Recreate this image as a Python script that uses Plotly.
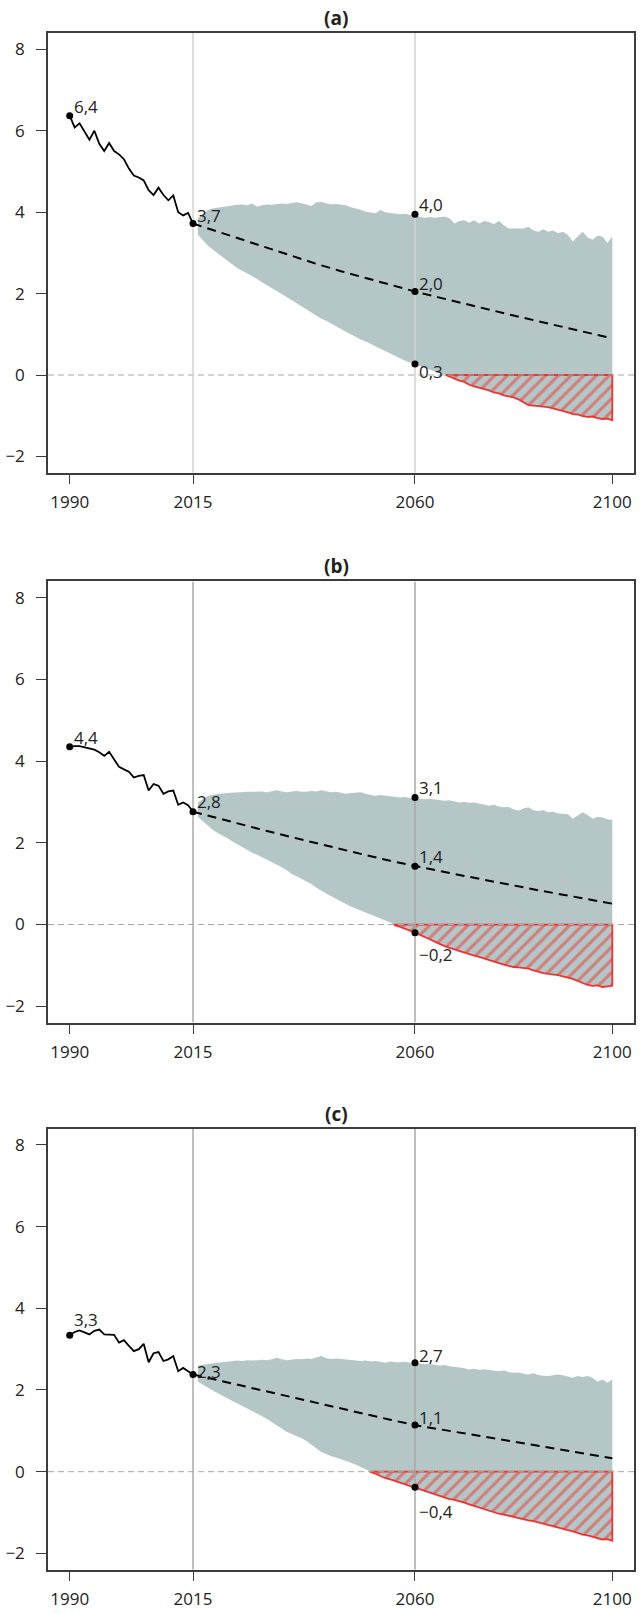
import plotly.graph_objects as go

# ---------------- data ----------------
YEARS_HIST = list(range(1990, 2016))
YEARS_FC = list(range(2016, 2101))
YEARS_MED = list(range(2015, 2101, 5))
REF_YEARS = [2015, 2060]
KEY_YEAR = 2060

hist_a = [6.37, 6.08, 6.18, 5.97, 5.78, 6.00, 5.68, 5.50, 5.70, 5.50,
          5.42, 5.30, 5.07, 4.90, 4.85, 4.78, 4.54, 4.42, 4.60, 4.42,
          4.29, 4.41, 4.00, 3.92, 3.98, 3.72]
upper_a = [3.85, 3.95, 4.05, 4.09, 4.11, 4.13, 4.15, 4.16, 4.18, 4.19,
           4.17, 4.21, 4.13, 4.17, 4.19, 4.18, 4.20, 4.21, 4.20, 4.22,
           4.24, 4.22, 4.18, 4.15, 4.24, 4.25, 4.22, 4.19, 4.20, 4.18,
           4.17, 4.12, 4.09, 4.06, 4.01, 3.99, 3.97, 4.05, 4.00, 3.98,
           3.97, 3.95, 3.96, 3.93, 3.95, 3.88, 3.86, 3.88, 3.86, 3.87,
           3.89, 3.85, 3.72, 3.78, 3.80, 3.74, 3.80, 3.72, 3.78, 3.76,
           3.70, 3.79, 3.68, 3.60, 3.60, 3.61, 3.60, 3.64, 3.55, 3.52,
           3.58, 3.52, 3.55, 3.48, 3.52, 3.44, 3.28, 3.40, 3.52, 3.38,
           3.32, 3.42, 3.40, 3.24, 3.40]
lower_a = [3.44, 3.30, 3.18, 3.08, 2.99, 2.91, 2.82, 2.72, 2.62, 2.56,
           2.50, 2.43, 2.36, 2.28, 2.21, 2.14, 2.07, 2.00, 1.92, 1.84,
           1.76, 1.68, 1.60, 1.53, 1.46, 1.38, 1.33, 1.27, 1.19, 1.13,
           1.06, 0.99, 0.92, 0.87, 0.82, 0.76, 0.70, 0.64, 0.58, 0.52,
           0.47, 0.41, 0.35, 0.31, 0.27, 0.22, 0.18, 0.13, 0.09, 0.05,
           0.01, -0.04, -0.08, -0.14, -0.17, -0.24, -0.28, -0.31, -0.35, -0.38,
           -0.43, -0.45, -0.50, -0.53, -0.55, -0.60, -0.66, -0.74, -0.75, -0.76,
           -0.78, -0.79, -0.82, -0.85, -0.88, -0.92, -0.96, -0.97, -1.01, -1.03,
           -1.02, -1.06, -1.08, -1.07, -1.11]
med_a = [3.72, 3.52, 3.32, 3.12, 2.92, 2.73, 2.55, 2.38, 2.21, 2.05,
         1.90, 1.75, 1.60, 1.46, 1.32, 1.18, 1.04, 0.90]
labels_a = ["6,4", "3,7", "4,0", "2,0", "0,3"]

hist_b = [4.35, 4.37, 4.37, 4.34, 4.31, 4.28, 4.22, 4.13, 4.23, 4.05,
          3.86, 3.80, 3.74, 3.60, 3.64, 3.66, 3.28, 3.44, 3.40, 3.20,
          3.26, 3.28, 2.93, 2.99, 2.92, 2.76]
upper_b = [2.99, 3.08, 3.15, 3.18, 3.20, 3.21, 3.22, 3.23, 3.24, 3.24,
           3.25, 3.25, 3.25, 3.26, 3.24, 3.27, 3.29, 3.26, 3.24, 3.26,
           3.27, 3.25, 3.25, 3.27, 3.26, 3.29, 3.27, 3.24, 3.25, 3.23,
           3.20, 3.22, 3.23, 3.24, 3.20, 3.18, 3.15, 3.17, 3.15, 3.14,
           3.13, 3.11, 3.12, 3.10, 3.11, 3.08, 3.07, 3.08, 3.06, 3.05,
           3.03, 3.04, 3.01, 2.99, 3.00, 2.98, 2.99, 2.96, 2.93, 2.91,
           2.93, 2.89, 2.87, 2.88, 2.82, 2.79, 2.84, 2.87, 2.80, 2.78,
           2.80, 2.75, 2.76, 2.72, 2.71, 2.70, 2.59, 2.66, 2.75, 2.68,
           2.59, 2.64, 2.62, 2.58, 2.56]
lower_b = [2.63, 2.52, 2.42, 2.32, 2.24, 2.18, 2.11, 2.03, 1.96, 1.88,
           1.81, 1.76, 1.71, 1.65, 1.59, 1.53, 1.46, 1.40, 1.33, 1.24,
           1.18, 1.12, 1.06, 0.99, 0.90, 0.82, 0.76, 0.69, 0.62, 0.56,
           0.50, 0.44, 0.39, 0.34, 0.29, 0.24, 0.19, 0.15, 0.10, 0.05,
           -0.02, -0.06, -0.10, -0.15, -0.20, -0.25, -0.31, -0.36, -0.42, -0.48,
           -0.53, -0.57, -0.61, -0.65, -0.69, -0.72, -0.76, -0.79, -0.83, -0.87,
           -0.91, -0.94, -0.98, -1.01, -1.04, -1.05, -1.06, -1.08, -1.12, -1.16,
           -1.19, -1.21, -1.22, -1.24, -1.27, -1.30, -1.33, -1.38, -1.44, -1.48,
           -1.50, -1.49, -1.53, -1.52, -1.50]
med_b = [2.76, 2.60, 2.44, 2.29, 2.14, 1.99, 1.85, 1.70, 1.56, 1.43,
         1.31, 1.19, 1.07, 0.95, 0.84, 0.73, 0.62, 0.51]
labels_b = ["4,4", "2,8", "3,1", "1,4", "\u22120,2"]

hist_c = [3.34, 3.42, 3.46, 3.40, 3.36, 3.45, 3.48, 3.36, 3.36, 3.35,
          3.16, 3.22, 3.08, 2.95, 3.00, 3.13, 2.68, 2.90, 2.93, 2.71,
          2.75, 2.83, 2.46, 2.54, 2.46, 2.38]
upper_c = [2.60, 2.62, 2.63, 2.65, 2.67, 2.68, 2.69, 2.71, 2.72, 2.71,
           2.73, 2.72, 2.73, 2.74, 2.73, 2.75, 2.79, 2.75, 2.73, 2.74,
           2.76, 2.75, 2.77, 2.76, 2.79, 2.83, 2.78, 2.76, 2.77, 2.76,
           2.75, 2.74, 2.72, 2.71, 2.72, 2.70, 2.71, 2.69, 2.67, 2.70,
           2.68, 2.68, 2.69, 2.67, 2.67, 2.65, 2.63, 2.64, 2.61, 2.60,
           2.61, 2.58, 2.57, 2.55, 2.53, 2.50, 2.52, 2.49, 2.51, 2.49,
           2.47, 2.46, 2.48, 2.44, 2.42, 2.43, 2.40, 2.38, 2.41, 2.37,
           2.35, 2.34, 2.36, 2.38, 2.36, 2.33, 2.30, 2.34, 2.32, 2.34,
           2.30, 2.20, 2.26, 2.18, 2.26]
lower_c = [2.20, 2.12, 2.06, 1.99, 1.92, 1.85, 1.79, 1.73, 1.67, 1.61,
           1.55, 1.49, 1.43, 1.36, 1.29, 1.21, 1.13, 1.05, 0.98, 0.92,
           0.87, 0.82, 0.75, 0.66, 0.57, 0.48, 0.43, 0.38, 0.35, 0.31,
           0.26, 0.22, 0.17, 0.12, 0.06, -0.01, -0.05, -0.10, -0.16, -0.19,
           -0.23, -0.26, -0.30, -0.34, -0.38, -0.42, -0.46, -0.50, -0.54, -0.58,
           -0.63, -0.67, -0.69, -0.72, -0.76, -0.80, -0.84, -0.88, -0.92, -0.95,
           -0.99, -1.03, -1.05, -1.08, -1.10, -1.13, -1.16, -1.19, -1.21, -1.24,
           -1.28, -1.31, -1.34, -1.36, -1.40, -1.43, -1.46, -1.50, -1.54, -1.56,
           -1.59, -1.63, -1.66, -1.65, -1.69]
med_c = [2.38, 2.24, 2.10, 1.96, 1.82, 1.68, 1.54, 1.41, 1.27, 1.14,
         1.04, 0.94, 0.84, 0.74, 0.64, 0.54, 0.43, 0.33]
labels_c = ["3,3", "2,3", "2,7", "1,1", "\u22120,4"]

PANEL_TITLES = ["(a)", "(b)", "(c)"]
X_TICKS = [1990, 2015, 2060, 2100]
Y_TICKS = [-2, 0, 2, 4, 6, 8]

panels = [
    dict(hist=hist_a, upper=upper_a, lower=lower_a, med=med_a, labels=labels_a),
    dict(hist=hist_b, upper=upper_b, lower=lower_b, med=med_b, labels=labels_b),
    dict(hist=hist_c, upper=upper_c, lower=lower_c, med=med_c, labels=labels_c),
]

# ---------------- style / layout ----------------
W, H = 640, 1614
M_T, M_B, M_L, M_R = 33, 36, 48, 4
PANEL_PX = [(33, 475), (584.3, 1027.7), (1134.3, 1577.7)]
PLOT_H = H - M_T - M_B
X_RANGE = [1985.6, 2104.4]
Y_RANGE = [-2.4, 8.4]

FONT = "Open Sans"
FS = 17
TXT = "#222222"
BAND = "#b4c6c6"
RED = "#ee3333"
BOX = "#3c3c3c"
VLINE_COLORS = ["#d2d2d2", "#a9a9a9", "#a9a9a9"]
# vertical pixel offsets of the value labels (per panel, per key point)
LABEL_YSHIFT = [[9, 8, 10, 8, -7],
                [9, 10, 10, 10, -22],
                [16, 3, 7, 8, -24]]

fig = go.Figure()
annotations = []
layout_axes = {}

for i, p in enumerate(panels):
    n = i + 1
    xa = "x" if n == 1 else f"x{n}"
    ya = "y" if n == 1 else f"y{n}"
    top, bot = PANEL_PX[i]
    dom = [1 - (bot - M_T) / PLOT_H, 1 - (top - M_T) / PLOT_H]

    up, lo, med, hist = p["upper"], p["lower"], p["med"], p["hist"]

    # band
    fig.add_trace(go.Scatter(x=YEARS_FC, y=lo, mode="lines", line=dict(width=0),
                             hoverinfo="skip", showlegend=False, xaxis=xa, yaxis=ya))
    fig.add_trace(go.Scatter(x=YEARS_FC, y=up, mode="lines", line=dict(width=0),
                             fill="tonexty", fillcolor=BAND,
                             hoverinfo="skip", showlegend=False, xaxis=xa, yaxis=ya))

    # hatched negative region
    k0 = next(k for k, v in enumerate(lo) if v < 0)
    xc = YEARS_FC[k0 - 1] + (0 - lo[k0 - 1]) / (lo[k0] - lo[k0 - 1])
    px = [xc] + YEARS_FC[k0:] + [YEARS_FC[-1], xc]
    py = [0] + lo[k0:] + [0, 0]
    fig.add_trace(go.Scatter(x=px, y=py, mode="lines", fill="toself",
                             fillcolor=BAND,
                             fillpattern=dict(shape="/", fgcolor=RED, bgcolor=BAND,
                                              size=9, solidity=0.33),
                             line=dict(color=RED, width=1.8),
                             hoverinfo="skip", showlegend=False, xaxis=xa, yaxis=ya))

    # zero dashed line
    fig.add_trace(go.Scatter(x=X_RANGE, y=[0, 0], mode="lines",
                             line=dict(color="#a8a8a8", width=1, dash="6px,4px"),
                             hoverinfo="skip", showlegend=False, xaxis=xa, yaxis=ya))
    # vertical reference lines
    for ry in REF_YEARS:
        fig.add_trace(go.Scatter(x=[ry, ry], y=Y_RANGE, mode="lines",
                                 line=dict(color=VLINE_COLORS[i], width=1.5),
                                 hoverinfo="skip", showlegend=False, xaxis=xa, yaxis=ya))

    # historical line
    fig.add_trace(go.Scatter(x=YEARS_HIST, y=hist, mode="lines",
                             line=dict(color="black", width=1.8),
                             showlegend=False, xaxis=xa, yaxis=ya))
    # median dashed
    fig.add_trace(go.Scatter(x=YEARS_MED, y=med, mode="lines",
                             line=dict(color="black", width=2, dash="9px,6px"),
                             showlegend=False, xaxis=xa, yaxis=ya))

    # key points
    ki = YEARS_FC.index(KEY_YEAR)
    mi = YEARS_MED.index(KEY_YEAR)
    kx = [YEARS_HIST[0], YEARS_HIST[-1], KEY_YEAR, KEY_YEAR, KEY_YEAR]
    ky = [hist[0], hist[-1], up[ki], med[mi], lo[ki]]
    fig.add_trace(go.Scatter(x=kx, y=ky, mode="markers",
                             marker=dict(color="black", size=7),
                             showlegend=False, xaxis=xa, yaxis=ya))
    for j, (xx, yy, lab) in enumerate(zip(kx, ky, p["labels"])):
        annotations.append(dict(x=xx, y=yy, xref=xa, yref=ya, text=lab,
                                showarrow=False, xanchor="left", yanchor="middle",
                                xshift=2, yshift=LABEL_YSHIFT[i][j],
                                font=dict(family=FONT, size=FS, color=TXT)))

    # title
    annotations.append(dict(x=(337 - M_L) / (W - M_L - M_R), y=dom[1], xref="paper", yref="paper",
                            text=f"<b>{PANEL_TITLES[i]}</b>", showarrow=False,
                            xanchor="center", yanchor="bottom", yshift=0,
                            font=dict(family=FONT, size=19, color=TXT)))

    axkey = "" if n == 1 else str(n)
    layout_axes[f"xaxis{axkey}"] = dict(
        domain=[0, 1], range=X_RANGE, anchor=ya, tickvals=X_TICKS,
        ticks="outside", ticklen=10, tickwidth=1.2, tickcolor=BOX,
        showline=True, linecolor=BOX, linewidth=1.5, mirror=True,
        showgrid=False, zeroline=False, ticklabelstandoff=3,
        tickfont=dict(family=FONT, size=FS, color=TXT))
    layout_axes[f"yaxis{axkey}"] = dict(
        domain=dom, range=Y_RANGE, anchor=xa, tickvals=Y_TICKS,
        ticks="outside", ticklen=10, tickwidth=1.2, tickcolor=BOX,
        showline=True, linecolor=BOX, linewidth=1.5, mirror=True,
        showgrid=False, zeroline=False, ticklabelstandoff=8,
        tickfont=dict(family=FONT, size=FS, color=TXT))

fig.update_layout(
    width=W, height=H,
    margin=dict(l=M_L, r=M_R, t=M_T, b=M_B),
    paper_bgcolor="white", plot_bgcolor="white",
    showlegend=False,
    annotations=annotations,
    **layout_axes,
)

fig.write_html("out.html",
               config={"displayModeBar": False},
               post_script="document.body.style.margin='0';document.body.style.padding='0';document.body.style.overflow='hidden';")
